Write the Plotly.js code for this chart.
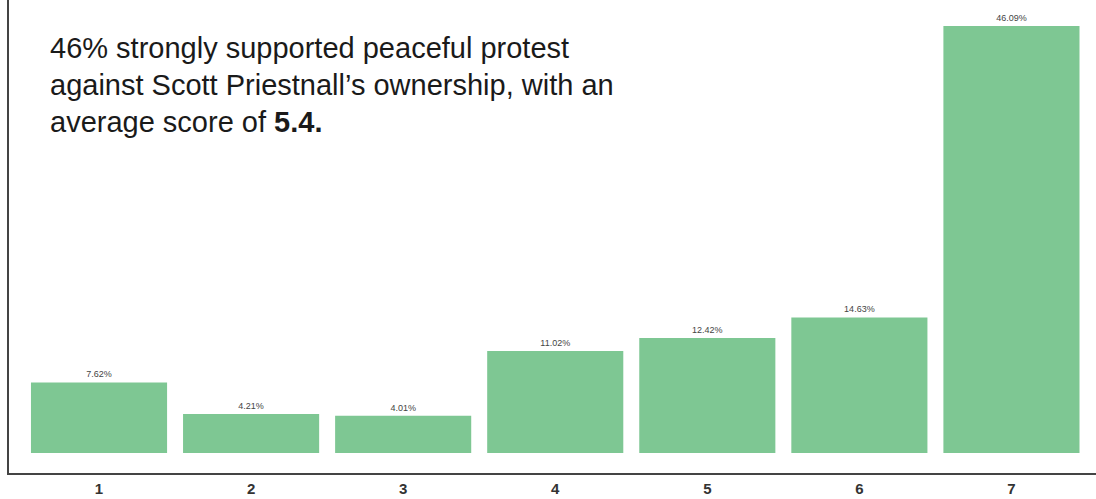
<!DOCTYPE html>
<html><head><meta charset="utf-8">
<script src="https://cdn.plot.ly/plotly-3.0.1.min.js"></script>
<style>html,body{margin:0;padding:0;background:#fff}#chart{width:1096px;height:499px}</style>
</head><body><div id="chart"></div>
<script>
const categories = ["1","2","3","4","5","6","7"];
const percentages = [7.62, 4.21, 4.01, 11.02, 12.42, 14.63, 46.09];
const headlineLines = [
  "46% strongly supported peaceful protest",
  "against Scott Priestnall’s ownership, with an",
  "average score of <b>5.4.</b>"
];

const trace = {
  type: "bar",
  x: categories.map(Number),
  y: percentages,
  marker: {color: "#7ec793", line: {width: 0}},
  texttemplate: "%{y:.2f}%",
  textposition: "outside",
  textfont: {family: "Liberation Sans, Arial, sans-serif", size: 9, color: "#444"},
  cliponaxis: false,
  hoverinfo: "x+y"
};

const annotations = headlineLines.map((t, i) => ({
  xref: "paper", yref: "paper",
  x: 0.036, y: 1 - (48 + i * 37) / 473,
  xanchor: "left", yanchor: "middle",
  text: t, showarrow: false, align: "left",
  font: {family: "Liberation Sans, Arial, sans-serif", size: 29, color: "#1a1a1a"}
}));

const layout = {
  width: 1096, height: 499,
  margin: {l: 9, r: 0, t: 0, b: 26, pad: 0},
  paper_bgcolor: "#fff", plot_bgcolor: "#fff",
  bargap: 0.105,
  showlegend: false,
  xaxis: {
    range: [0.408, 7.556],
    tickvals: categories.map(Number), ticktext: categories,
    showline: true, linecolor: "#444", linewidth: 2,
    showgrid: false, zeroline: false, ticks: "",
    ticklabelstandoff: 1,
    tickfont: {family: "Liberation Sans, Arial, sans-serif", size: 15, color: "#333", weight: "bold"}
  },
  yaxis: {
    range: [-2.159, 48.9],
    showline: true, linecolor: "#444", linewidth: 2,
    showgrid: false, zeroline: false, showticklabels: false, ticks: ""
  },
  annotations: annotations
};

Plotly.newPlot("chart", [trace], layout, {displayModeBar: false, staticPlot: true});
</script></body></html>
